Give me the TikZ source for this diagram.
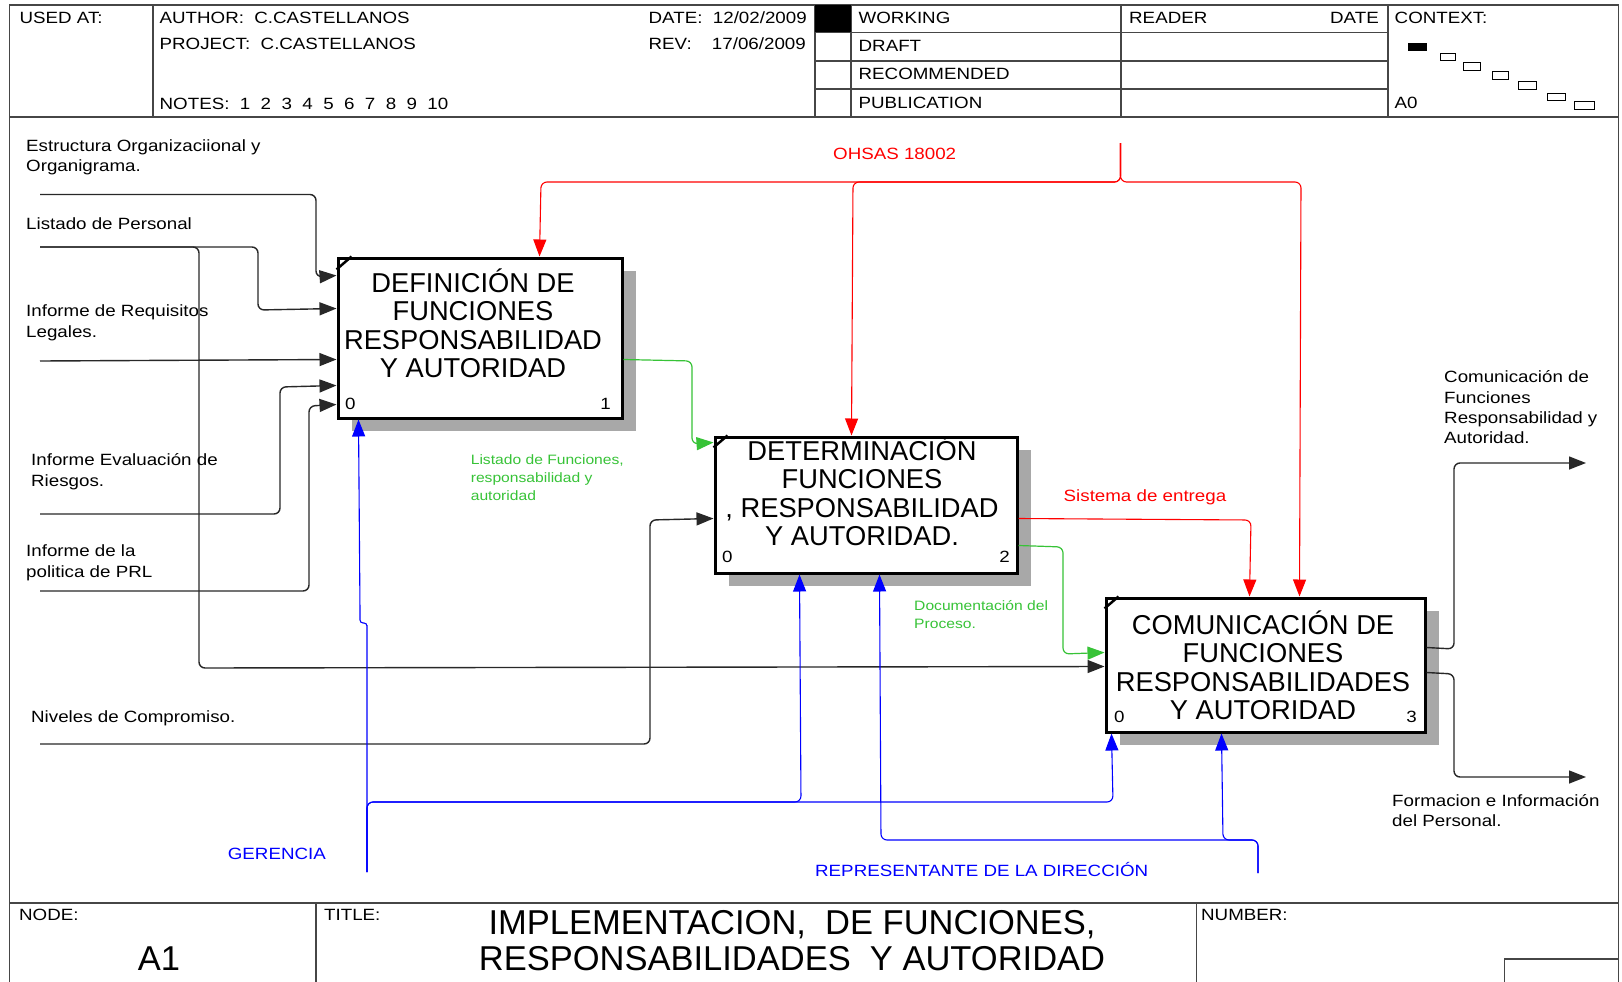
\documentclass[tikz,border=0pt]{standalone}
\usepackage{fontspec}
\setmainfont{Liberation Sans}
\newfontfamily\lblfont{Liberation Sans}[FakeStretch=1.15]
\usetikzlibrary{arrows.meta,calc,shadows}

\definecolor{idefred}{RGB}{255,0,0}
\definecolor{idefgreen}{RGB}{55,195,55}
\definecolor{idefblue}{RGB}{0,0,255}
\definecolor{framegray}{RGB}{70,70,70}
\definecolor{linegray}{RGB}{40,40,40}
\definecolor{shadowgray}{RGB}{168,168,168}

\begin{document}
\begin{tikzpicture}[x=1pt,y=-1pt,
  frameline/.style={draw=framegray, line width=1.5pt},
  ctxbox/.style={draw=black, line width=0.9pt},
  hdr/.style={font=\lblfont\fontsize{16.3}{20}\selectfont, inner sep=0pt, anchor=base west},
  lbl/.style={font=\lblfont\fontsize{16.3}{20.2}\selectfont, inner sep=0pt, align=left, anchor=north west},
  lblone/.style={font=\lblfont\fontsize{16.3}{20.2}\selectfont, inner sep=0pt, anchor=base west},
  greenlbl/.style={font=\lblfont\fontsize{13.6}{17.7}\selectfont, inner sep=0pt, align=left, anchor=north west, text=idefgreen},
  act/.style={draw=black, line width=3pt, fill=white, inner sep=0pt,
    drop shadow={shadow xshift=14pt, shadow yshift=-13pt, fill=shadowgray, opacity=1}},
  acttext/.style={font=\fontsize{27.3}{28.4}\selectfont, inner sep=0pt, align=center, anchor=north},
  actnum/.style={font=\lblfont\fontsize{16.3}{20}\selectfont, inner sep=0pt},
  cornermark/.style={draw=black, line width=2.5pt},
  idefarrow/.style={rounded corners=6pt, -{Triangle[length=17pt,width=13pt]}},
  blackflow/.style={idefarrow, draw=linegray, line width=1.4pt},
  redflow/.style={idefarrow, draw=idefred, line width=1.1pt},
  greenflow/.style={idefarrow, draw=idefgreen, line width=1.2pt},
  blueflow/.style={idefarrow, draw=idefblue, line width=1.1pt},
  titlefont/.style={font=\fontsize{34.5}{36}\selectfont, inner sep=0pt}
]
\useasboundingbox (0,0) rectangle (1622,982);
\fill[white] (0,0) rectangle (1622,982);

% ---------- sheet frame ----------
\draw[frameline] (9.5,982) -- (9.5,5) -- (1618.5,5) -- (1618.5,982);
\draw[frameline] (9.5,117) -- (1618.5,117);
\draw[frameline] (9.5,903) -- (1618.5,903);

% header columns and status rows
\draw[frameline] (153,5) -- (153,117);
\draw[frameline] (815,5) -- (815,117);
\draw[frameline] (851,5) -- (851,117);
\draw[frameline] (1121,5) -- (1121,117);
\draw[frameline] (1388,5) -- (1388,117);
\draw[frameline] (815,32.5) -- (1388,32.5);
\draw[frameline] (815,61) -- (1388,61);
\draw[frameline] (815,89) -- (1388,89);
\fill[black] (815,5) rectangle (851,32.5);

% context thumbnails
\fill[black] (1408,43) rectangle (1427,51);
\draw[ctxbox] (1440,53) rectangle (1455,60);
\draw[ctxbox] (1463,62) rectangle (1480,70);
\draw[ctxbox] (1492,71) rectangle (1508,79);
\draw[ctxbox] (1518,81) rectangle (1536,89);
\draw[ctxbox] (1547,93) rectangle (1565,100);
\draw[ctxbox] (1574,101) rectangle (1594,109);

% footer columns
\draw[frameline] (316,903) -- (316,982);
\draw[frameline] (1196.5,903) -- (1196.5,982);
\draw[frameline] (1504.5,982) -- (1504.5,959) -- (1618.5,959);

% ---------- header texts ----------
\node[hdr] (usedat) at (19.5,24) {USED AT:};
\node[hdr] (author) at (159.5,24) {AUTHOR:\ \ C.CASTELLANOS};
\node[hdr] (project) at (159.5,50) {PROJECT:\ \ C.CASTELLANOS};
\node[hdr] (notes) at (159.5,109) {NOTES:\ \ 1\ \ 2\ \ 3\ \ 4\ \ 5\ \ 6\ \ 7\ \ 8\ \ 9\ \ 10};
\node[hdr] (date) at (648.5,24) {DATE:\ \ 12/02/2009};
\node[hdr] (rev) at (648.5,50) {REV:};
\node[hdr, anchor=base east] (revdate) at (806,50) {17/06/2009};
\node[hdr] (working) at (858.5,24) {WORKING};
\node[hdr] (draft) at (858.5,51.5) {DRAFT};
\node[hdr] (recommended) at (858.5,80) {RECOMMENDED};
\node[hdr] (publication) at (858.5,108.5) {PUBLICATION};
\node[hdr] (reader) at (1129,24) {READER};
\node[hdr, anchor=base east] (readerdate) at (1379,24) {DATE};
\node[hdr] (context) at (1394.5,24) {CONTEXT:};
\node[hdr] (parent) at (1394.5,108.5) {A0};

% ---------- footer texts ----------
\node[hdr] (nodelbl) at (19,920) {NODE:};
\node[hdr] (titlelbl) at (324,920) {TITLE:};
\node[hdr] (numberlbl) at (1201,920) {NUMBER:};
\node[titlefont, anchor=base] (nodenum) at (159,970) {A1};
\node[titlefont, align=center, anchor=north] (title) at (792,904)
  {\rule{0pt}{30pt}IMPLEMENTACION,\ \ DE FUNCIONES,\\RESPONSABILIDADES\ \ Y AUTORIDAD};

% ---------- activity boxes ----------
\node[act, minimum width=284pt, minimum height=160pt] (b1) at (480,338) {};
\node[act, minimum width=302pt, minimum height=136pt] (b2) at (866,505) {};
\node[act, minimum width=319pt, minimum height=134pt] (b3) at (1265.5,665) {};

\draw[cornermark] ($(b1.north west)+(0,13)$) -- ($(b1.north west)+(15,0)$);
\draw[cornermark] ($(b2.north west)+(0,12)$) -- ($(b2.north west)+(14,0)$);
\draw[cornermark] ($(b3.north west)+(0,12)$) -- ($(b3.north west)+(14,0)$);

\node[acttext] (b1text) at (473,262)
  {\rule{0pt}{30pt}DEFINICIÓN DE\\FUNCIONES\\RESPONSABILIDAD\\Y AUTORIDAD};
\node[acttext] (b2text) at (862,430)
  {\rule{0pt}{30pt}DETERMINACIÓN\\FUNCIONES\\, RESPONSABILIDAD\\Y AUTORIDAD.};
\node[acttext] (b3text) at (1263,604)
  {\rule{0pt}{30pt}COMUNICACIÓN DE\\FUNCIONES\\RESPONSABILIDADES\\Y AUTORIDAD};

\node[actnum, anchor=base west] (b1zero) at (345,409.5) {0};
\node[actnum, anchor=base east] (b1num) at (611,409.5) {1};
\node[actnum, anchor=base west] (b2zero) at (722,562.5) {0};
\node[actnum, anchor=base east] (b2num) at (1010,562.5) {2};
\node[actnum, anchor=base west] (b3zero) at (1114,722.5) {0};
\node[actnum, anchor=base east] (b3num) at (1417,722.5) {3};

% ---------- ports ----------
\coordinate (b1-in1) at ($(b1.north west)+(0,19)$);
\coordinate (b1-in2) at ($(b1.north west)+(0,52)$);
\coordinate (b1-in3) at ($(b1.north west)+(0,103)$);
\coordinate (b1-in4) at ($(b1.north west)+(0,129)$);
\coordinate (b1-in5) at ($(b1.north west)+(0,148)$);
\coordinate (b1-out) at ($(b1.north east)+(0,103)$);
\coordinate (b1-ctl) at ($(b1.north west)+(203,0)$);
\coordinate (b1-mech) at ($(b1.south west)+(22,0)$);

\coordinate (b2-in1) at ($(b2.north west)+(0,7)$);
\coordinate (b2-in2) at ($(b2.north west)+(0,83)$);
\coordinate (b2-out1) at ($(b2.north east)+(0,83)$);
\coordinate (b2-out2) at ($(b2.north east)+(0,110)$);
\coordinate (b2-ctl) at ($(b2.north west)+(138,0)$);
\coordinate (b2-mech1) at ($(b2.south west)+(86,0)$);
\coordinate (b2-mech2) at ($(b2.south west)+(166,0)$);

\coordinate (b3-in1) at ($(b3.north west)+(0,56)$);
\coordinate (b3-in2) at ($(b3.north west)+(0,70)$);
\coordinate (b3-ctl1) at ($(b3.north west)+(145,0)$);
\coordinate (b3-ctl2) at ($(b3.north west)+(195,0)$);
\coordinate (b3-mech1) at ($(b3.south west)+(7,0)$);
\coordinate (b3-mech2) at ($(b3.south west)+(117,0)$);
\coordinate (b3-out1) at ($(b3.north east)+(0,51)$);
\coordinate (b3-out2) at ($(b3.north east)+(0,76)$);

% free ends
\coordinate (src-estructura) at (40,194.5);
\coordinate (src-personal) at (40,247);
\coordinate (src-requisitos) at (40,361);
\coordinate (src-riesgos) at (40,514);
\coordinate (src-prl) at (40,591);
\coordinate (src-niveles) at (40,744);
\coordinate (src-ohsas) at (1120.5,143);
\coordinate (src-gerencia) at (367,872);
\coordinate (src-representante) at (1258,873);
\coordinate (dst-comunicacion) at (1586,463);
\coordinate (dst-formacion) at (1586,777);

% ---------- inputs ----------
\draw[blackflow] (src-estructura) -- (316,194.5) -- (316,277) -- (b1-in1);
\draw[blackflow] (src-personal) -- (258,247) -- (258,310) -- (b1-in2);
\draw[blackflow] (src-personal) -- (199,247) -- (199,668) -- (b3-in2);
\draw[blackflow] (src-requisitos) -- (b1-in3);
\draw[blackflow] (src-riesgos) -- (280,514) -- (280,387) -- (b1-in4);
\draw[blackflow] (src-prl) -- (309,591) -- (309,406) -- (b1-in5);
\draw[blackflow] (src-niveles) -- (650,744) -- (650,520) -- (b2-in2);

% ---------- flows between activities ----------
\draw[greenflow] (b1-out) -- (692,361) -- (692,444) -- (b2-in1);
\draw[greenflow] (b2-out2) -- (1063,547) -- (1063,654) -- (b3-in1);
\draw[redflow] (b2-out1) -- (1251,520) -- (b3-ctl1);

% ---------- controls ----------
\draw[redflow] (src-ohsas) -- (1120.5,182) -- (541,182) -- (b1-ctl);
\draw[redflow] (src-ohsas) -- (1120.5,182) -- (853,182) -- (b2-ctl);
\draw[redflow] (src-ohsas) -- (1120.5,182) -- (1301,182) -- (b3-ctl2);

% ---------- mechanisms ----------
\draw[blueflow, rounded corners=3pt] (src-gerencia) -- (367,628) -- (367,623) -- (360,623) -- (360,612) -- (b1-mech);
\draw[blueflow] (src-gerencia) -- (367,802) -- (1113,802) -- (b3-mech1);
\draw[blueflow] (src-gerencia) -- (367,802) -- (801,802) -- (b2-mech1);
\draw[blueflow] (src-representante) -- (1258,840) -- (881,840) -- (b2-mech2);
\draw[blueflow] (src-representante) -- (1258,840) -- (1223,840) -- (b3-mech2);

% ---------- outputs ----------
\draw[blackflow] (b3-out1) -- (1454,649) -- (1454,463) -- (dst-comunicacion);
\draw[blackflow] (b3-out2) -- (1454,674) -- (1454,777) -- (dst-formacion);

% ---------- arrow labels ----------
\node[lbl] (l-estructura) at (26,131) {\rule{0pt}{20pt}Estructura Organizaciional y\\Organigrama.};
\node[lblone] (l-personal) at (26,229.3) {Listado de Personal};
\node[lbl] (l-requisitos) at (26,296.7) {\rule{0pt}{20pt}Informe de Requisitos\\Legales.};
\node[lbl] (l-riesgos) at (31,445.7) {\rule{0pt}{20pt}Informe Evaluación de\\Riesgos.};
\node[lbl] (l-prl) at (26,536.7) {\rule{0pt}{20pt}Informe de la\\politica de PRL};
\node[lblone] (l-niveles) at (31,722.7) {Niveles de Compromiso.};
\node[greenlbl] (l-listado) at (470.6,447.7) {\rule{0pt}{17pt}Listado de Funciones,\\responsabilidad y\\autoridad};
\node[greenlbl] (l-documentacion) at (914,593.7) {\rule{0pt}{17pt}Documentación del\\Proceso.};
\node[lblone, text=idefred] (l-sistema) at (1063.5,501) {Sistema de entrega};
\node[lblone, text=idefred] (l-ohsas) at (833,159.3) {OHSAS 18002};
\node[lblone, text=idefblue] (l-gerencia) at (227.7,859) {GERENCIA};
\node[lblone, text=idefblue] (l-representante) at (815,876.7) {REPRESENTANTE DE LA DIRECCIÓN};
\node[lbl] (l-comunicacion) at (1444,362.7) {\rule{0pt}{20pt}Comunicación de\\Funciones\\Responsabilidad y\\Autoridad.};
\node[lbl] (l-formacion) at (1392,786) {\rule{0pt}{20pt}Formacion e Información\\del Personal.};
\end{tikzpicture}
\end{document}
